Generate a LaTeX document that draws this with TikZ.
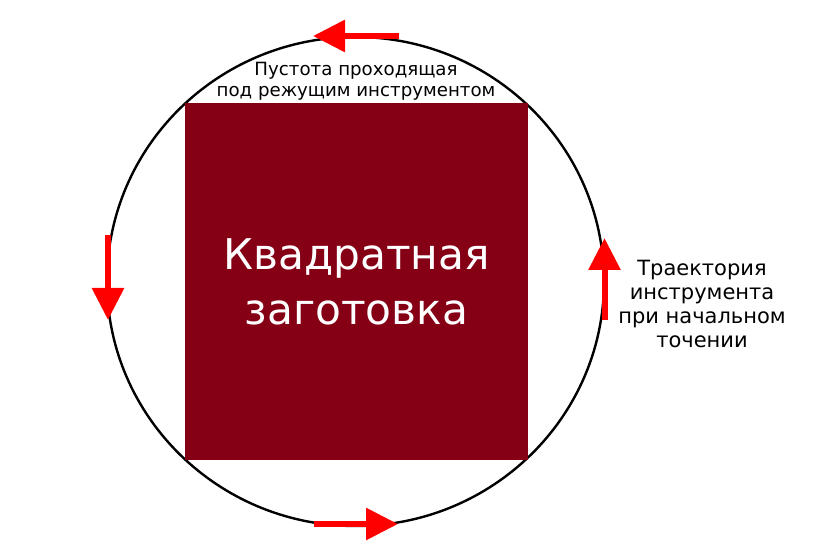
\documentclass[tikz,border=0pt]{standalone}
\usepackage{fontspec}
\setmainfont{DejaVu Sans}
\usetikzlibrary{arrows.meta}
\definecolor{blankred}{RGB}{133,0,21}
\begin{document}
\begin{tikzpicture}[x=1pt,y=-1pt,
    move/.style={red, line width=6pt, -{Triangle[length=32pt,width=31pt]}},
    note/.style={align=center, inner sep=0pt}]
    \useasboundingbox (0,0) rectangle (819,545);
    % tool path round the blank
    \draw[line width=2.4pt] (355.5,281.5) ellipse [x radius=248.5pt, y radius=244.5pt];
    \node[fill=blankred, minimum width=343pt, minimum height=357pt, inner sep=0pt,
        text=white, align=center, font=\fontsize{42.3}{55}\selectfont] (blank) at (356.5,281.5) {Квадратная\\заготовка};
    \node[note, font=\fontsize{18.2}{21}\selectfont] (gap) at (356,81.5) {Пустота проходящая\\под режущим инструментом};
    \node[note, font=\fontsize{21}{24}\selectfont] (path) at (702,304) {Траектория\\инструмента\\при начальном\\точении};
    % direction of travel
    \draw[move] (399,36) -- (313,36);
    \draw[move] (108,235) -- (108,320);
    \draw[move] (314,524) -- (398,524);
    \draw[move] (604.5,320) -- (604.5,238);
\end{tikzpicture}
\end{document}
